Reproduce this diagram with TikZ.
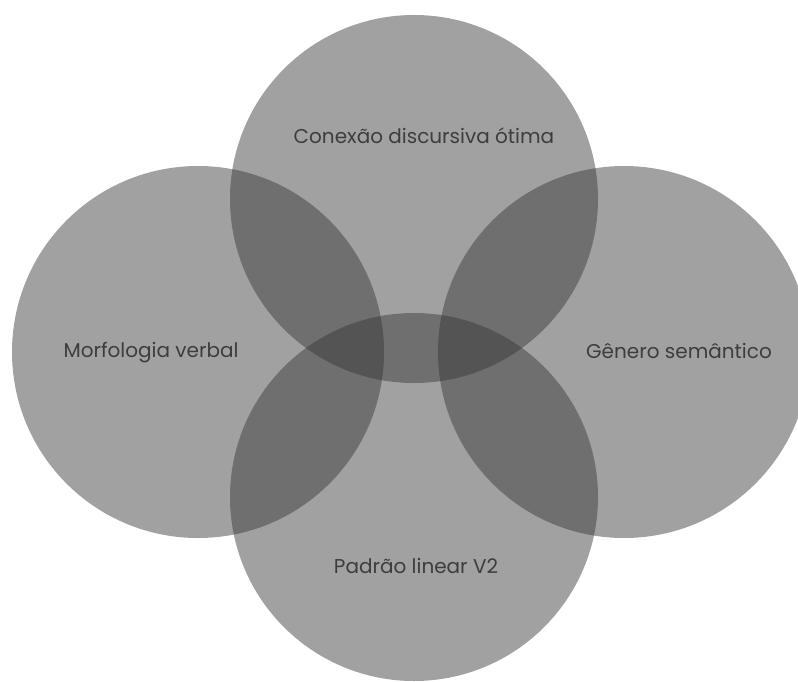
\documentclass[tikz,border=0pt]{standalone}
\usepackage{fontspec}
\setmainfont{Poppins}
\begin{document}
\begin{tikzpicture}[x=1pt,y=-1pt,
  venn/.style={circle, fill=black!80, fill opacity=0.46, draw=none, inner sep=0pt},
  lbl/.style={text=black!76, font=\fontsize{20}{24}\selectfont, inner sep=0pt}]
\useasboundingbox (0,0) rectangle (798,681);
\clip (0,0) rectangle (798,681);
\node[venn, minimum size=368pt] (ctop) at (414,199) {};
\node[venn, minimum size=372pt] (cleft) at (198,352) {};
\node[venn, minimum size=372pt] (cright) at (624,352) {};
\node[venn, minimum size=368pt] (cbot) at (414,497) {};
\node[lbl] (ttop) at (424,136) {Conexão discursiva ótima};
\node[lbl] (tleft) at (151,353) {Morfologia verbal};
\node[lbl] (tright) at (679,351) {Gênero semântico};
\node[lbl] (tbot) at (416,566) {Padrão linear V2};
\end{tikzpicture}
\end{document}
